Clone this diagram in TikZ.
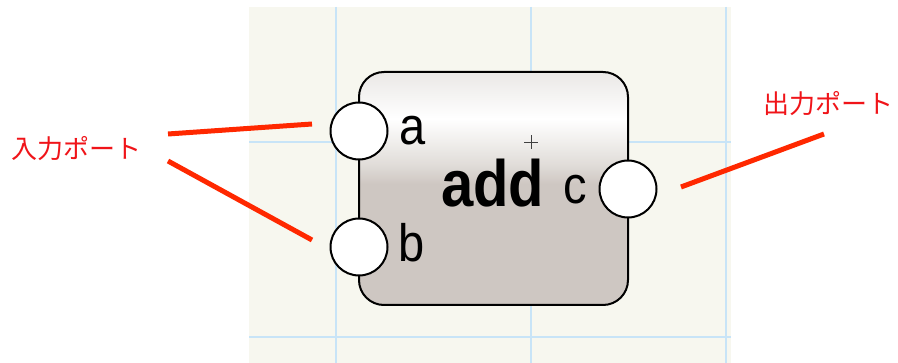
\documentclass[tikz,border=0pt]{standalone}
\usepackage{fontspec}
\setmainfont{Liberation Sans}
\newfontfamily\jpfont{Noto Sans CJK JP}
\definecolor{panel}{RGB}{247,247,239}
\definecolor{gridc}{RGB}{200,228,247}
\definecolor{callout}{RGB}{255,40,0}
\definecolor{labelred}{RGB}{240,20,25}
\definecolor{basec}{RGB}{206,199,194}
\definecolor{midc}{RGB}{224,220,216}
\definecolor{lightc}{RGB}{240,238,236}
\definecolor{topc}{RGB}{234,232,230}
\pgfdeclareverticalshading{boxshade}{100bp}{color(0bp)=(basec); color(51bp)=(basec); color(55bp)=(midc); color(60bp)=(lightc); color(65bp)=(white); color(75bp)=(topc); color(100bp)=(topc)}
\tikzset{
  port/.style={circle, draw=black, fill=white, line width=2pt, minimum size=57pt, inner sep=0pt},
  portlbl/.style={anchor=base west, inner sep=0pt, font=\fontsize{47}{52}\selectfont},
  jplbl/.style={inner sep=0pt, text=labelred, font=\jpfont\fontsize{26}{30}\selectfont},
  calloutline/.style={draw=callout, line width=5pt},
  gridline/.style={draw=gridc, line width=1.5pt}
}
\begin{document}
\begin{tikzpicture}[x=1pt,y=-1pt]
\useasboundingbox (0,0) rectangle (898,363);
\fill[white] (0,0) rectangle (898,363);
\fill[panel] (249,7) rectangle (731,363);
\draw[gridline] (336,7) -- (336,363);
\draw[gridline] (531,7) -- (531,363);
\draw[gridline] (726,7) -- (726,363);
\draw[gridline] (249,142) -- (731,142);
\draw[gridline] (249,337) -- (731,337);
% block
\node[shade, shading=boxshade, draw=black, line width=2pt, rounded corners=25pt,
      minimum width=269pt, minimum height=233pt, inner sep=0pt] (box) at (493.5,188.5) {};
\coordinate (ctr) at (531,142);
\draw[black!75, line width=0.8pt] ([xshift=-7pt]ctr) -- ([xshift=7pt]ctr)
      ([yshift=-7pt]ctr) -- ([yshift=7pt]ctr);
\node[anchor=base west, inner sep=0pt, font=\fontsize{58}{62}\selectfont\bfseries] (add) at (441,207) {\scalebox{1}[1.13]{add}};
% ports
\node[port] (pa) at (359,131) {};
\node[port] (pb) at (359,247) {};
\node[port] (pc) at (628,189) {};
\node[portlbl] (la) at (399,145) {\scalebox{1}[1.12]{a}};
\node[portlbl] (lb) at (398,262) {\scalebox{1}[1.12]{b}};
\node[portlbl] (lc) at (563,204) {\scalebox{1}[1.12]{c}};
% callouts
\node[jplbl] (inlbl) at (77,149) {入力ポート};
\node[jplbl] (outlbl) at (828,104) {出力ポート};
\coordinate (ia1) at (168,134);
\coordinate (ia2) at (312,124);
\coordinate (ib1) at (168,161);
\coordinate (ib2) at (312,240);
\coordinate (oc1) at (681,187);
\coordinate (oc2) at (824,134);
\draw[calloutline] (ia1) -- (ia2);
\draw[calloutline] (ib1) -- (ib2);
\draw[calloutline] (oc1) -- (oc2);
\end{tikzpicture}
\end{document}
